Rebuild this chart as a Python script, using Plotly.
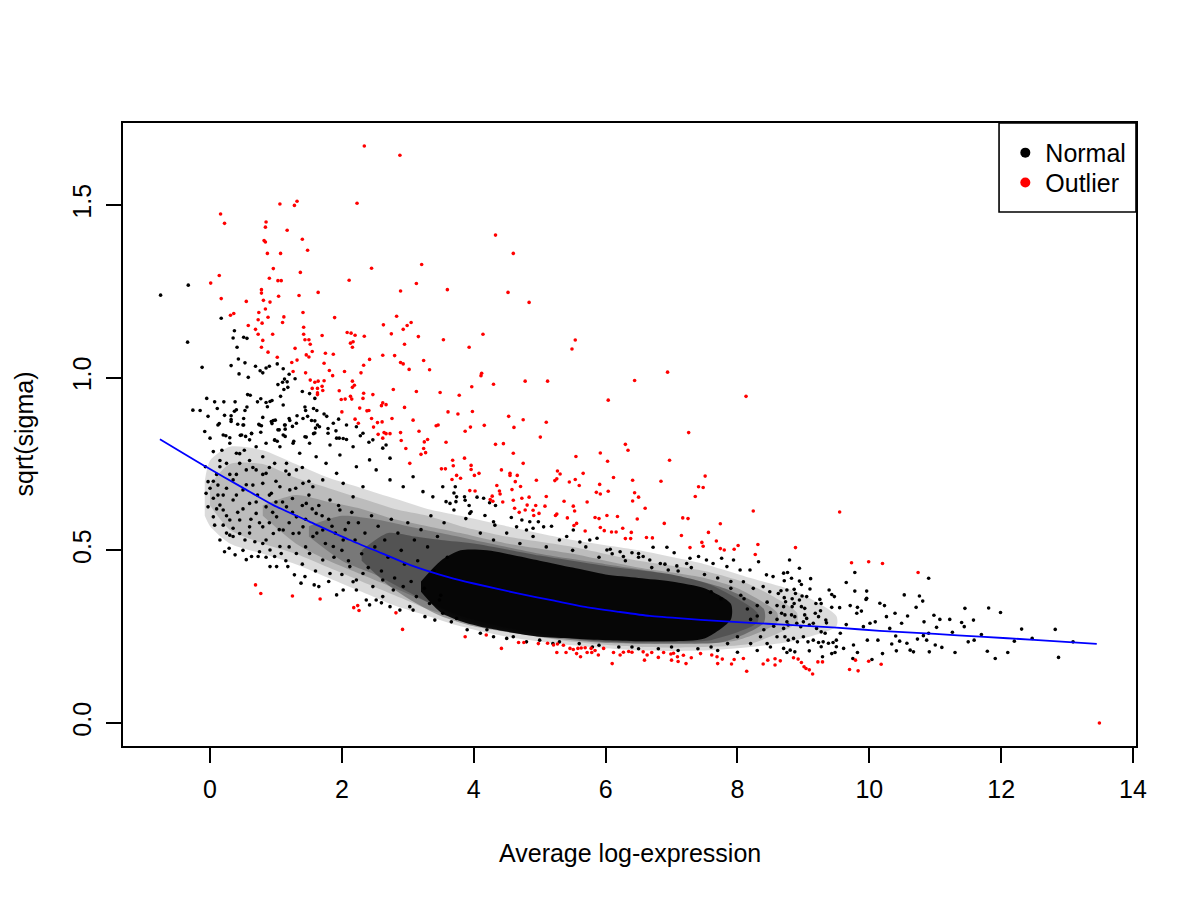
import plotly.graph_objects as go

# ---------------- data ----------------
x_ticks = [0, 2, 4, 6, 8, 10, 12, 14]
y_ticks = [0.0, 0.5, 1.0, 1.5]
y_tick_labels = ["0.0", "0.5", "1.0", "1.5"]

# lowess trend (blue)
trend_x = [-0.76, -0.06, 0.5, 0.96, 1.5, 2.12, 2.6, 3.03, 3.64, 4.0, 4.65, 5.2, 5.66, 6.2,
           6.67, 7.2, 7.69, 8.2, 8.7, 9.5, 10.16, 11.0, 11.68, 12.5, 13.45]
trend_y = [0.822, 0.742, 0.681, 0.631, 0.584, 0.530, 0.492, 0.458, 0.421, 0.404, 0.376, 0.355,
           0.337, 0.322, 0.310, 0.302, 0.296, 0.290, 0.285, 0.276, 0.267, 0.258, 0.250, 0.241, 0.229]

# density envelopes of the crowded part of the "Normal" cloud (outer -> inner)
dens1_x = [-0.08, 0.0, 0.3, 0.8, 1.3, 1.8, 2.3, 2.8, 3.3, 3.8, 4.5, 5.5, 6.5, 7.5, 8.2, 8.9, 9.5]
dens1_hi = [0.70, 0.76, 0.80, 0.79, 0.75, 0.71, 0.68, 0.65, 0.62, 0.60, 0.57, 0.53, 0.50, 0.46, 0.42, 0.38, 0.31]
dens1_lo = [0.60, 0.57, 0.52, 0.49, 0.46, 0.42, 0.38, 0.34, 0.31, 0.28, 0.25, 0.225, 0.21, 0.21, 0.22, 0.24, 0.28]

dens2_x = [0.0, 0.3, 0.8, 1.3, 1.8, 2.3, 2.8, 3.3, 3.8, 4.5, 5.5, 6.5, 7.5, 8.2, 8.9]
dens2_hi = [0.69, 0.75, 0.75, 0.71, 0.68, 0.65, 0.62, 0.60, 0.57, 0.54, 0.51, 0.47, 0.44, 0.40, 0.32]
dens2_lo = [0.63, 0.56, 0.52, 0.49, 0.45, 0.41, 0.37, 0.33, 0.30, 0.265, 0.235, 0.22, 0.22, 0.23, 0.29]

dens3_x = [0.8, 1.3, 1.8, 2.3, 2.8, 3.3, 3.8, 4.5, 5.5, 6.5, 7.5, 8.0, 8.6]
dens3_hi = [0.63, 0.66, 0.64, 0.62, 0.59, 0.57, 0.55, 0.52, 0.49, 0.45, 0.42, 0.39, 0.32]
dens3_lo = [0.60, 0.52, 0.47, 0.43, 0.39, 0.35, 0.31, 0.275, 0.245, 0.23, 0.23, 0.24, 0.29]

dens4_x = [1.5, 2.0, 2.5, 3.0, 3.5, 4.0, 5.0, 6.0, 7.0, 7.6, 8.3]
dens4_hi = [0.57, 0.60, 0.59, 0.57, 0.55, 0.53, 0.49, 0.46, 0.43, 0.40, 0.32]
dens4_lo = [0.54, 0.47, 0.43, 0.38, 0.33, 0.29, 0.255, 0.235, 0.235, 0.24, 0.29]

dens5_x = [2.3, 2.7, 3.1, 3.5, 4.0, 5.0, 6.0, 7.0, 7.8, 8.4]
dens5_hi = [0.50, 0.55, 0.54, 0.53, 0.52, 0.485, 0.455, 0.43, 0.39, 0.33]
dens5_lo = [0.47, 0.40, 0.35, 0.31, 0.28, 0.25, 0.232, 0.23, 0.235, 0.29]

core_x = [3.2, 3.5, 3.8, 4.2, 5.0, 5.5, 6.0, 6.5, 7.0, 7.5, 7.9]
core_hi = [0.41, 0.47, 0.50, 0.50, 0.47, 0.45, 0.43, 0.42, 0.41, 0.39, 0.345]
core_lo = [0.38, 0.32, 0.295, 0.275, 0.25, 0.245, 0.24, 0.237, 0.237, 0.245, 0.30]

# individual "Normal" genes (black)
normal_upper = [
    (-0.75, 1.239), (-0.33, 1.268), (-0.34, 1.103), (0.17, 1.172), (-0.12, 1.030), (0.37, 1.136),
    (0.35, 1.115), (0.51, 1.117), (0.56, 1.114), (0.41, 1.088), (0.43, 1.054), (0.32, 1.035),
    (0.53, 1.043), (0.44, 1.011), (0.58, 1.001), (0.69, 1.033), (0.76, 1.020), (0.80, 1.014),
    (0.85, 1.028), (0.90, 1.033), (1.02, 1.040), (1.11, 1.026), (1.20, 1.010), (1.29, 0.997),
    (1.13, 0.996), (1.17, 0.988), (1.10, 0.987), (1.03, 0.980), (1.18, 0.972), (1.12, 0.966),
    (1.40, 0.960), (1.51, 0.954), (1.59, 0.940), (0.57, 0.951), (0.61, 0.949), (0.77, 0.939),
    (1.07, 0.946), (-0.05, 0.940), (0.07, 0.930), (0.21, 0.930), (0.38, 0.930), (0.72, 0.930),
    (0.91, 0.931), (0.94, 0.934), (0.87, 0.916), (0.85, 0.928), (1.11, 0.921), (1.44, 0.915),
    (1.45, 0.905), (1.57, 0.911), (1.62, 0.905), (-0.26, 0.906), (-0.15, 0.905), (0.11, 0.911),
    (0.40, 0.907), (0.37, 0.903), (0.53, 0.905), (0.56, 0.915), (0.22, 0.891), (0.32, 0.890),
    (0.32, 0.879), (0.51, 0.882), (0.80, 0.885), (-0.03, 0.888), (0.96, 0.876), (1.20, 0.882),
    (1.21, 0.876), (1.32, 0.890), (1.41, 0.882), (1.48, 0.888), (1.54, 0.876), (1.59, 0.875),
    (1.73, 0.895), (1.77, 0.888), (1.63, 0.863), (1.95, 0.880), (0.12, 0.863), (0.14, 0.867),
    (0.42, 0.865), (0.51, 0.863), (0.74, 0.865), (0.78, 0.861), (0.94, 0.867), (0.99, 0.877),
    (1.14, 0.863), (1.25, 0.859), (1.05, 0.849), (1.14, 0.851), (1.60, 0.854), (1.57, 0.838),
    (1.79, 0.853), (1.91, 0.846), (2.07, 0.863), (-0.08, 0.844), (0.00, 0.825), (0.24, 0.832),
    (0.30, 0.826), (0.46, 0.833), (0.54, 0.830), (0.63, 0.838), (0.77, 0.842), (1.11, 0.834),
    (1.14, 0.830), (1.46, 0.828), (1.59, 0.840), (1.92, 0.825), (1.96, 0.825), (2.07, 0.821),
    (2.28, 0.832), (2.41, 0.813), (0.98, 0.819), (1.02, 0.816), (1.27, 0.816),
]
normal_left = [
    (0.05, 0.786), (-0.07, 0.742), (-0.03, 0.699), (-0.06, 0.665), (-0.03, 0.626), (0.00, 0.680),
    (0.05, 0.651), (0.12, 0.689), (0.12, 0.660), (0.15, 0.631), (0.07, 0.573), (0.15, 0.530),
    (0.22, 0.496), (0.29, 0.506), (0.38, 0.487), (0.55, 0.473), (0.63, 0.482), (0.73, 0.482),
    (0.20, 0.573), (0.35, 0.564), (0.30, 0.544), (0.45, 0.549), (0.53, 0.530), (0.68, 0.525),
    (0.75, 0.496), (0.91, 0.501), (0.98, 0.482), (1.08, 0.491), (0.91, 0.453), (1.01, 0.453),
    (1.18, 0.453), (1.28, 0.429), (1.38, 0.405), (1.44, 0.424), (1.58, 0.400), (1.65, 0.395),
    (1.92, 0.371), (2.02, 0.385), (2.17, 0.409), (2.22, 0.385), (2.37, 0.356), (2.52, 0.356),
    (2.62, 0.366), (2.42, 0.342), (2.60, 0.348), (2.73, 0.337), (2.88, 0.327), (3.03, 0.337),
    (3.08, 0.327), (3.26, 0.308), (3.41, 0.298), (3.53, 0.318), (3.66, 0.293), (3.74, 0.303),
    (0.32, 0.873), (0.50, 0.863), (0.63, 0.839), (0.75, 0.863), (0.93, 0.873), (1.03, 0.849),
    (1.13, 0.863), (1.31, 0.868), (1.44, 0.829), (1.66, 0.858), (1.79, 0.839), (1.87, 0.868),
    (2.02, 0.824), (2.22, 0.858), (2.17, 0.800), (2.32, 0.839), (2.47, 0.820), (2.67, 0.805),
    (2.62, 0.796), (2.73, 0.767), (0.20, 0.834), (0.30, 0.810), (0.48, 0.834), (0.60, 0.820),
    (0.40, 0.781), (0.45, 0.752), (0.25, 0.752), (0.15, 0.742), (0.70, 0.800), (0.85, 0.810),
    (0.98, 0.820), (0.80, 0.771), (1.06, 0.800), (1.26, 0.810), (1.36, 0.781), (1.51, 0.810),
    (1.61, 0.771), (1.82, 0.805), (1.97, 0.776), (1.76, 0.752), (0.98, 0.752), (1.16, 0.752),
    (1.31, 0.733), (0.70, 0.733), (0.55, 0.733), (0.85, 0.723), (0.35, 0.704), (0.25, 0.680),
    (0.50, 0.675), (0.65, 0.689), (0.80, 0.694), (0.93, 0.665), (1.06, 0.684), (1.21, 0.675),
    (1.41, 0.694), (1.56, 0.684), (1.71, 0.704), (1.92, 0.723), (2.02, 0.694), (2.22, 0.742),
    (2.42, 0.762), (2.52, 0.733), (2.32, 0.684), (2.17, 0.655), (2.73, 0.704), (2.93, 0.684),
    (3.08, 0.713), (3.23, 0.670), (3.38, 0.655), (3.53, 0.684), (3.58, 0.641), (3.74, 0.655),
    (0.35, 0.646), (0.60, 0.636), (0.70, 0.607), (0.85, 0.626), (1.01, 0.597), (1.16, 0.626),
    (1.31, 0.597), (1.46, 0.636), (1.61, 0.607), (1.82, 0.646), (1.97, 0.617), (0.20, 0.617),
    (0.05, 0.597), (0.30, 0.588), (0.45, 0.588), (0.60, 0.568), (0.80, 0.568), (0.96, 0.549),
    (1.11, 0.559), (1.26, 0.549), (1.41, 0.568), (1.56, 0.540), (1.71, 0.559), (1.87, 0.511),
    (2.02, 0.530), (1.51, 0.491), (1.71, 0.472), (1.31, 0.491), (1.06, 0.511), (0.80, 0.520),
    (1.82, 0.433), (2.12, 0.453), (2.22, 0.414), (2.32, 0.433), (2.47, 0.395), (2.62, 0.414),
    (2.78, 0.385), (2.93, 0.395), (3.13, 0.366), (3.33, 0.346), (3.48, 0.356),
    (0.10, 0.720), (0.40, 0.720), (0.60, 0.760), (0.90, 0.740), (1.20, 0.720), (1.40, 0.740),
    (0.18, 0.790), (0.52, 0.790), (0.72, 0.660), (1.00, 0.640), (1.25, 0.650), (1.50, 0.660),
    (0.42, 0.610), (0.62, 0.590), (0.90, 0.580), (1.20, 0.580), (1.45, 0.590), (1.65, 0.630),
    (1.80, 0.590), (1.90, 0.550), (2.10, 0.580), (0.25, 0.550), (0.50, 0.500), (0.85, 0.480),
    (1.15, 0.470), (1.40, 0.460), (1.60, 0.440), (1.80, 0.410), (2.00, 0.430),
]
normal_dense = [
    (1.55, 0.62), (1.62, 0.55), (1.70, 0.60), (1.75, 0.52), (1.85, 0.57), (1.88, 0.48),
    (1.95, 0.63), (2.00, 0.50), (2.05, 0.56), (2.10, 0.47), (2.15, 0.61), (2.20, 0.53),
    (2.25, 0.58), (2.30, 0.49), (2.35, 0.55), (2.40, 0.45), (2.45, 0.60), (2.50, 0.51),
    (2.55, 0.57), (2.60, 0.44), (2.65, 0.53), (2.70, 0.48), (2.75, 0.59), (2.80, 0.42),
    (2.85, 0.55), (2.90, 0.50), (2.95, 0.46), (3.00, 0.58), (3.05, 0.41), (3.10, 0.53),
    (3.15, 0.47), (3.20, 0.56), (3.25, 0.39), (3.30, 0.51), (3.35, 0.60), (3.40, 0.44),
    (3.45, 0.54), (3.50, 0.37), (3.55, 0.58), (3.60, 0.48),
    (0.05, 0.70), (0.10, 0.62), (0.15, 0.76), (0.20, 0.66), (0.25, 0.60), (0.30, 0.72),
    (0.35, 0.54), (0.40, 0.66), (0.45, 0.78), (0.50, 0.62), (0.55, 0.69), (0.60, 0.55),
    (0.65, 0.74), (0.70, 0.64), (0.75, 0.58), (0.80, 0.72), (0.85, 0.53), (0.90, 0.66),
    (0.95, 0.61), (1.00, 0.70), (1.05, 0.56), (1.10, 0.64), (1.15, 0.73), (1.20, 0.51),
    (1.25, 0.61), (1.30, 0.68), (1.35, 0.55), (1.40, 0.63), (1.45, 0.51), (1.50, 0.70),
    (4.1, 0.55), (4.3, 0.53), (4.5, 0.55), (4.7, 0.52), (4.9, 0.54), (5.1, 0.51), (5.3, 0.53),
    (5.5, 0.50), (5.7, 0.51), (5.9, 0.48), (6.1, 0.49), (6.3, 0.47), (6.5, 0.48), (6.7, 0.45),
    (6.9, 0.46), (7.1, 0.44), (7.3, 0.45), (7.5, 0.43), (7.7, 0.42), (7.9, 0.41),
    (4.2, 0.27), (4.6, 0.25), (5.2, 0.23), (5.8, 0.22), (6.4, 0.22), (7.0, 0.22), (7.6, 0.22),
]
normal_mid = [
    (3.72, 0.684), (3.70, 0.666), (3.86, 0.655), (4.05, 0.654), (4.15, 0.651), (3.64, 0.636),
    (3.73, 0.641), (3.87, 0.645), (3.93, 0.630), (4.24, 0.638), (4.33, 0.630), (3.70, 0.617),
    (3.96, 0.612), (4.17, 0.601), (4.57, 0.595), (3.88, 0.592), (3.94, 0.607), (4.30, 0.583),
    (4.32, 0.573), (4.73, 0.588), (4.85, 0.583), (4.98, 0.583), (4.65, 0.568), (4.80, 0.559),
    (4.90, 0.564), (5.06, 0.568), (5.18, 0.570), (5.41, 0.540), (5.51, 0.559), (5.61, 0.524),
    (5.76, 0.530), (5.87, 0.535), (6.02, 0.501), (6.07, 0.503), (6.22, 0.496), (6.27, 0.482),
    (6.40, 0.493), (6.50, 0.491), (6.57, 0.482), (6.72, 0.509), (6.93, 0.509), (7.04, 0.493),
    (6.67, 0.472), (6.83, 0.462), (6.95, 0.443), (7.08, 0.455), (7.23, 0.462), (7.28, 0.477),
    (7.41, 0.482), (7.53, 0.472), (7.63, 0.462), (7.76, 0.477), (7.84, 0.453), (7.94, 0.472),
    (8.04, 0.443), (8.19, 0.443), (8.32, 0.467), (8.44, 0.429), (8.54, 0.424), (8.70, 0.434),
    (8.09, 0.409), (8.24, 0.390), (8.39, 0.395), (8.49, 0.380), (8.62, 0.375), (8.75, 0.385),
    (3.90, 0.270), (4.10, 0.260), (4.30, 0.250), (4.50, 0.245), (4.80, 0.235), (5.00, 0.240),
    (5.30, 0.235), (5.60, 0.230), (5.90, 0.225), (6.20, 0.220), (6.50, 0.215), (6.80, 0.215),
    (7.10, 0.210), (7.40, 0.215), (7.70, 0.210), (8.00, 0.205), (8.30, 0.210), (8.50, 0.220),
    (8.60, 0.250), (8.40, 0.270), (8.20, 0.300), (8.50, 0.320), (8.30, 0.340), (8.10, 0.360),
    (8.60, 0.300), (7.60, 0.380), (7.75, 0.360), (7.90, 0.390), (8.05, 0.370), (8.15, 0.330),
    (8.30, 0.310), (8.45, 0.350), (8.55, 0.280), (8.35, 0.250), (8.20, 0.230), (8.00, 0.250),
    (7.85, 0.230), (8.45, 0.230), (8.60, 0.340),
]
normal_right = [
    (8.79, 0.472), (8.94, 0.448), (8.76, 0.436), (8.71, 0.412), (8.82, 0.419), (8.94, 0.411),
    (8.97, 0.401), (9.11, 0.418), (8.66, 0.383), (8.86, 0.387), (8.88, 0.375), (9.10, 0.388),
    (8.71, 0.363), (8.73, 0.351), (8.70, 0.337), (8.83, 0.360), (8.86, 0.346), (8.83, 0.337),
    (8.94, 0.356), (8.98, 0.368), (9.05, 0.366), (8.97, 0.337), (9.02, 0.332), (9.25, 0.358),
    (9.19, 0.346), (9.27, 0.346), (9.43, 0.372), (9.39, 0.385), (8.67, 0.318), (8.72, 0.313),
    (8.82, 0.313), (8.87, 0.308), (9.02, 0.313), (9.05, 0.303), (9.18, 0.318), (9.23, 0.308),
    (9.26, 0.325), (9.34, 0.298), (9.35, 0.290), (8.75, 0.293), (8.77, 0.284), (8.70, 0.274),
    (8.90, 0.289), (8.96, 0.279), (9.00, 0.293), (9.09, 0.284), (9.15, 0.289), (9.20, 0.274),
    (9.27, 0.264), (9.33, 0.260), (8.72, 0.250), (8.77, 0.240), (8.85, 0.245), (8.91, 0.235),
    (9.00, 0.250), (9.07, 0.235), (9.15, 0.240), (9.23, 0.233), (9.30, 0.235), (9.38, 0.231),
    (9.45, 0.233), (8.70, 0.216), (8.75, 0.204), (8.80, 0.211), (8.87, 0.206), (9.09, 0.209),
    (9.27, 0.221), (9.43, 0.201), (9.50, 0.221), (9.29, 0.192), (9.65, 0.407), (9.78, 0.382),
    (9.96, 0.382), (9.95, 0.358), (9.78, 0.436), (9.65, 0.285), (9.61, 0.216), (9.56, 0.260),
    (9.55, 0.334), (9.50, 0.240), (9.48, 0.204), (9.47, 0.366), (9.43, 0.335), (9.71, 0.340),
    (9.82, 0.204), (9.76, 0.226), (9.75, 0.187), (9.82, 0.335), (9.81, 0.318), (9.88, 0.324),
    (9.91, 0.279), (9.96, 0.361), (9.97, 0.240), (10.01, 0.289), (10.04, 0.184), (10.09, 0.293),
    (10.13, 0.240), (10.16, 0.347), (10.20, 0.201), (10.23, 0.340), (10.26, 0.308), (10.31, 0.274),
    (10.34, 0.229), (10.39, 0.318), (10.40, 0.252), (10.41, 0.209), (10.46, 0.237), (10.49, 0.289),
    (10.53, 0.371), (10.57, 0.231), (10.58, 0.310), (10.62, 0.211), (10.67, 0.206), (10.71, 0.335),
    (10.73, 0.243), (10.76, 0.368), (10.81, 0.353), (10.82, 0.253), (10.83, 0.293), (10.87, 0.240),
    (10.90, 0.260), (10.90, 0.419), (10.91, 0.206), (10.98, 0.312), (11.00, 0.226), (11.02, 0.277),
    (11.07, 0.300), (11.10, 0.219), (11.22, 0.300), (11.26, 0.263), (11.30, 0.204), (11.40, 0.291),
    (11.44, 0.279), (11.45, 0.332), (11.50, 0.235), (11.58, 0.298), (11.59, 0.240), (11.70, 0.256),
    (11.79, 0.208), (11.81, 0.333), (11.91, 0.187), (11.99, 0.320), (12.10, 0.204), (12.20, 0.237),
    (12.31, 0.272), (12.47, 0.245), (12.82, 0.271), (12.87, 0.190), (13.09, 0.235),
]

# "Outlier" genes (red)
outlier_high = [
    (2.34, 1.671), (2.88, 1.644), (1.06, 1.503), (1.32, 1.511), (1.28, 1.499), (2.23, 1.505),
    (0.16, 1.474), (0.22, 1.447), (0.85, 1.451), (0.84, 1.436), (1.17, 1.427), (1.40, 1.401),
    (0.82, 1.397), (0.84, 1.393), (1.48, 1.369), (0.87, 1.360), (1.07, 1.360), (0.96, 1.316),
    (2.45, 1.317), (3.21, 1.328), (1.37, 1.305), (0.14, 1.296), (0.01, 1.274), (0.90, 1.288),
    (1.03, 1.281), (1.08, 1.281), (2.11, 1.282), (3.13, 1.273), (0.78, 1.255), (0.78, 1.245),
    (2.89, 1.251), (3.60, 1.255), (0.17, 1.229), (1.04, 1.236), (1.35, 1.238), (1.64, 1.247),
    (0.81, 1.224), (0.91, 1.219), (0.55, 1.221), (0.84, 1.199), (0.74, 1.189), (1.41, 1.189),
    (0.36, 1.186), (0.31, 1.181), (0.88, 1.175), (1.12, 1.176), (0.73, 1.168), (1.89, 1.174),
    (2.83, 1.178), (0.79, 1.158), (1.10, 1.160), (3.05, 1.160), (2.63, 1.153), (2.99, 1.151),
    (0.58, 1.151), (1.42, 1.146), (0.69, 1.140), (2.93, 1.140), (2.75, 1.127), (2.08, 1.131),
    (2.14, 1.129), (0.73, 1.126), (0.95, 1.126), (1.42, 1.126), (1.70, 1.122), (2.20, 1.123),
    (2.34, 1.120), (3.16, 1.119), (1.50, 1.110), (1.44, 1.110), (3.54, 1.110), (0.80, 1.108),
    (2.13, 1.100), (2.17, 1.104), (1.52, 1.097), (2.95, 1.097), (2.16, 1.088), (0.78, 1.088),
    (1.29, 1.085), (1.55, 1.076), (0.88, 1.074), (1.75, 1.071), (1.87, 1.068), (1.46, 1.066),
    (1.50, 1.060), (2.62, 1.065), (2.80, 1.064), (1.02, 1.059), (2.42, 1.053), (2.89, 1.044),
    (2.93, 1.040), (3.24, 1.050), (1.24, 1.044), (1.73, 1.042), (2.33, 1.036), (3.02, 1.024),
    (3.33, 1.023), (1.32, 1.051), (1.81, 1.021), (2.04, 1.018), (1.45, 1.014), (1.26, 1.018),
    (2.29, 1.014), (1.86, 1.006), (1.52, 0.993), (1.59, 0.987), (1.64, 0.990), (1.73, 0.991),
    (2.16, 0.990), (2.19, 0.978), (2.16, 0.972), (1.55, 0.969), (1.63, 0.969), (1.70, 0.975),
    (1.71, 0.963), (1.63, 0.956), (1.63, 0.951), (1.96, 0.962), (2.78, 0.966), (3.13, 0.960),
    (3.49, 0.957), (3.78, 0.949), (2.33, 0.955), (2.32, 0.940), (2.47, 0.951), (2.13, 0.946),
    (2.15, 0.938), (1.99, 0.937), (2.05, 0.938), (2.62, 0.927), (2.60, 0.919), (2.67, 0.922),
    (2.27, 0.912), (2.95, 0.914), (2.00, 0.901), (2.38, 0.904), (2.41, 0.905), (3.61, 0.901),
    (3.76, 0.895), (2.20, 0.880), (2.45, 0.882), (2.76, 0.882), (3.08, 0.877), (2.25, 0.868),
    (2.54, 0.870), (2.61, 0.872), (2.48, 0.857), (3.43, 0.861), (3.46, 0.863), (3.17, 0.845),
    (2.55, 0.836), (2.64, 0.841), (2.67, 0.838), (2.73, 0.838), (2.89, 0.841), (2.62, 0.825),
    (2.90, 0.818), (3.30, 0.821), (3.25, 0.814), (3.58, 0.813), (2.97, 0.795), (3.24, 0.795),
    (3.27, 0.783), (3.20, 0.778), (3.68, 0.761), (3.69, 0.745), (3.51, 0.736), (3.57, 0.736),
    (3.74, 0.717), (3.80, 0.709), (3.67, 0.705), (3.03, 0.752),
]
outlier_mid = [
    (4.33, 1.413), (4.60, 1.360), (4.52, 1.247), (4.84, 1.218), (4.14, 1.126), (3.93, 1.088),
    (5.54, 1.109), (5.49, 1.083), (4.12, 1.013), (4.11, 1.006), (4.30, 0.981), (3.97, 0.974),
    (4.78, 0.990), (5.12, 0.990), (6.44, 0.992), (6.94, 1.016), (8.13, 0.946), (6.04, 0.935),
    (3.98, 0.902), (4.53, 0.888), (4.75, 0.878), (5.10, 0.871), (3.95, 0.857), (4.16, 0.862),
    (4.61, 0.856), (3.87, 0.845), (5.01, 0.828), (7.26, 0.841), (4.33, 0.807), (4.45, 0.809),
    (6.30, 0.807), (6.34, 0.790), (4.60, 0.781), (5.55, 0.772), (5.92, 0.782), (3.86, 0.767),
    (4.75, 0.752), (6.03, 0.758), (6.97, 0.761), (3.96, 0.746), (3.96, 0.734), (4.42, 0.733),
    (4.55, 0.723), (4.55, 0.717), (4.66, 0.717), (4.08, 0.723), (4.01, 0.717), (5.27, 0.730),
    (5.31, 0.721), (5.66, 0.723), (6.12, 0.711), (7.51, 0.715), (4.63, 0.699), (4.95, 0.703),
    (5.23, 0.702), (5.26, 0.707), (5.54, 0.705), (5.45, 0.698), (6.41, 0.703), (6.84, 0.700),
    (4.35, 0.688), (4.71, 0.685), (5.60, 0.688), (5.91, 0.691), (7.41, 0.684), (7.48, 0.682),
    (3.94, 0.673), (4.02, 0.672), (4.39, 0.672), (4.58, 0.676), (5.86, 0.668), (5.92, 0.663),
    (6.04, 0.671), (6.44, 0.667), (4.28, 0.657), (4.40, 0.663), (4.84, 0.654), (5.10, 0.656),
    (7.36, 0.656), (6.50, 0.654), (4.25, 0.647), (4.29, 0.642), (4.44, 0.640), (4.60, 0.645),
    (4.73, 0.651), (5.37, 0.642), (5.72, 0.640), (6.41, 0.643), (4.81, 0.631), (4.94, 0.630),
    (5.08, 0.628), (5.51, 0.628), (6.60, 0.622), (4.62, 0.622), (8.24, 0.614), (4.69, 0.610),
    (4.78, 0.617), (4.90, 0.616), (4.99, 0.607), (4.91, 0.601), (5.26, 0.605), (5.24, 0.601),
    (5.53, 0.614), (5.84, 0.595), (5.90, 0.592), (6.02, 0.601), (6.18, 0.598), (5.42, 0.594),
    (6.48, 0.591), (7.17, 0.594), (7.25, 0.592), (5.52, 0.572), (5.56, 0.578), (5.69, 0.556),
    (5.92, 0.566), (5.98, 0.557), (6.09, 0.553), (6.16, 0.553), (6.26, 0.564), (6.39, 0.552),
    (6.30, 0.534), (6.38, 0.534), (6.62, 0.537), (6.71, 0.536), (6.89, 0.578), (7.15, 0.543),
    (7.56, 0.552), (7.74, 0.577), (7.46, 0.523), (7.48, 0.512), (7.68, 0.527), (7.28, 0.508),
    (7.74, 0.505), (7.80, 0.501), (7.95, 0.503), (8.01, 0.514), (8.27, 0.488), (8.31, 0.517),
    (9.55, 0.611), (8.88, 0.508), (9.73, 0.464), (9.99, 0.467), (10.20, 0.462), (10.74, 0.436),
]
outlier_low = [
    (0.69, 0.400), (0.77, 0.375), (1.25, 0.368), (1.67, 0.359), (2.18, 0.334), (2.24, 0.340),
    (2.26, 0.326), (2.82, 0.319), (2.92, 0.271), (3.87, 0.250), (4.19, 0.255), (4.42, 0.216),
    (4.68, 0.233), (4.76, 0.233), (4.98, 0.230), (5.12, 0.231), (5.21, 0.226), (5.27, 0.229),
    (5.36, 0.225), (5.40, 0.204), (5.46, 0.216), (5.51, 0.213), (5.58, 0.216), (5.63, 0.217),
    (5.69, 0.218), (5.56, 0.201), (5.62, 0.192), (5.26, 0.204), (5.72, 0.204), (5.79, 0.204),
    (5.84, 0.210), (5.89, 0.197), (5.78, 0.216), (5.97, 0.216), (6.10, 0.172), (6.12, 0.204),
    (6.22, 0.197), (6.27, 0.205), (6.35, 0.207), (6.40, 0.205), (6.57, 0.206), (6.63, 0.197),
    (6.70, 0.204), (6.59, 0.182), (6.80, 0.190), (6.88, 0.204), (6.99, 0.200), (7.03, 0.202),
    (7.00, 0.182), (7.09, 0.192), (7.18, 0.196), (7.10, 0.178), (7.22, 0.172), (7.30, 0.189),
    (7.44, 0.201), (7.61, 0.197), (7.69, 0.192), (7.77, 0.185), (7.70, 0.172), (7.91, 0.171),
    (7.95, 0.184), (8.09, 0.187), (8.14, 0.150), (8.39, 0.171), (8.46, 0.182), (8.57, 0.186),
    (8.57, 0.168), (8.65, 0.180), (8.85, 0.189), (8.92, 0.185), (8.97, 0.175), (9.01, 0.163),
    (9.04, 0.158), (9.09, 0.154), (9.14, 0.142), (9.22, 0.177), (9.29, 0.177), (9.70, 0.155),
    (9.83, 0.151), (9.79, 0.182), (9.99, 0.179), (10.18, 0.170), (13.49, 0.000),
]

FONT = "Liberation Sans, Arial, Helvetica, sans-serif"

normal = normal_upper + normal_left + normal_dense + normal_mid + normal_right
outlier = outlier_high + outlier_mid + outlier_low

fig = go.Figure()


def band(xs, hi, lo, color):
    fig.add_trace(go.Scatter(
        x=list(xs) + list(xs)[::-1], y=list(hi) + list(lo)[::-1],
        mode="lines", fill="toself", fillcolor=color,
        line=dict(width=0, shape="spline", smoothing=0.7),
        hoverinfo="skip", showlegend=False))


band(dens1_x, dens1_hi, dens1_lo, "rgba(0,0,0,0.14)")
band(dens2_x, dens2_hi, dens2_lo, "rgba(0,0,0,0.14)")
band(dens3_x, dens3_hi, dens3_lo, "rgba(0,0,0,0.18)")
band(dens4_x, dens4_hi, dens4_lo, "rgba(0,0,0,0.22)")
band(dens5_x, dens5_hi, dens5_lo, "rgba(0,0,0,0.30)")
band(core_x, core_hi, core_lo, "rgba(0,0,0,0.92)")

fig.add_trace(go.Scatter(
    x=[p[0] for p in normal], y=[p[1] for p in normal], mode="markers",
    marker=dict(color="black", size=3.6, line=dict(width=0)),
    showlegend=False, name="Normal"))
fig.add_trace(go.Scatter(
    x=[p[0] for p in outlier], y=[p[1] for p in outlier], mode="markers",
    marker=dict(color="#ff0000", size=3.6, line=dict(width=0)),
    showlegend=False, name="Outlier"))
fig.add_trace(go.Scatter(
    x=trend_x, y=trend_y, mode="lines",
    line=dict(color="#0000ff", width=1.8, shape="spline", smoothing=0.6),
    showlegend=False, hoverinfo="skip"))

# legend entries (one legend per row so the rows sit where R puts them)
fig.add_trace(go.Scatter(x=[None], y=[None], mode="markers", name="Normal",
                         marker=dict(color="black", size=10), legend="legend"))
fig.add_trace(go.Scatter(x=[None], y=[None], mode="markers", name="Outlier",
                         marker=dict(color="#ff0000", size=10), legend="legend2"))

axis_common = dict(
    showline=True, linecolor="black", linewidth=1.6, mirror=True,
    ticks="outside", ticklen=15, tickwidth=1.6, tickcolor="black",
    showgrid=False, zeroline=False,
    tickfont=dict(family=FONT, size=25, color="black"),
)

legend_common = dict(xanchor="left", yanchor="middle", borderwidth=0,
                     bgcolor="rgba(0,0,0,0)",
                     font=dict(family=FONT, size=25, color="black"),
                     itemsizing="trace")

# The page body adds an 8 px margin, so the figure is 16 px smaller than the window.
fig.update_layout(
    width=1184, height=884,
    margin=dict(l=115, r=56, t=115, b=146),
    paper_bgcolor="white", plot_bgcolor="white",
    font=dict(family=FONT, size=25, color="black"),
    xaxis=dict(range=[-1.32, 14.045], tickvals=x_ticks, ticklabelstandoff=5, **axis_common),
    yaxis=dict(range=[-0.0666, 1.7376], tickvals=y_ticks, ticktext=y_tick_labels,
               tickangle=-90, ticklabelstandoff=5, **axis_common),
    legend=dict(x=0.871, y=0.952, **legend_common),
    legend2=dict(x=0.871, y=0.904, **legend_common),
    shapes=[dict(type="rect", xref="paper", yref="paper", x0=0.8648, x1=1.0,
                 y0=0.8571, y1=1.0, line=dict(color="black", width=1.6),
                 fillcolor="white", layer="above")],
    annotations=[
        dict(text="Average log-expression", xref="paper", yref="paper", x=0.5, y=0,
             xanchor="center", yanchor="middle", yshift=-107, showarrow=False,
             font=dict(family=FONT, size=25, color="black")),
        dict(text="sqrt(sigma)", xref="paper", yref="paper", x=0, y=0.5,
             xanchor="center", yanchor="middle", xshift=-100, textangle=-90, showarrow=False,
             font=dict(family=FONT, size=25, color="black")),
    ],
)

fig.write_html("out.html")
